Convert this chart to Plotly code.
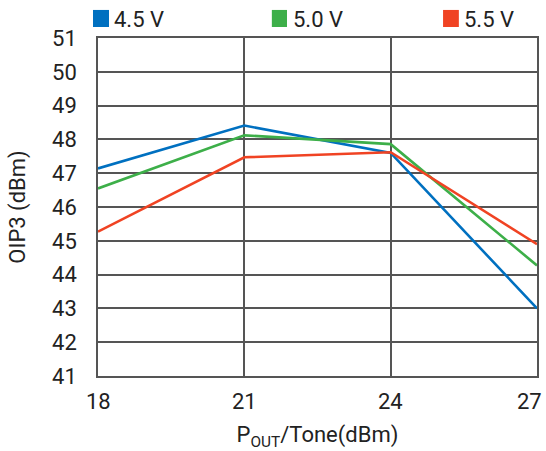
import plotly.graph_objects as go

# Output power per tone (dBm)
pout = [18, 21, 24, 27]

# OIP3 (dBm) per supply voltage
oip3_45 = [47.14, 48.41, 47.60, 43.00]
oip3_50 = [46.55, 48.12, 47.86, 44.27]
oip3_55 = [45.27, 47.47, 47.62, 44.90]

series_names = ["4.5 V", "5.0 V", "5.5 V"]
series_colors = ["#0070C0", "#3DAF49", "#F04323"]

x_ticks = [18, 21, 24, 27]
y_ticks = list(range(41, 52))

FONT = "Roboto, sans-serif"
GRID = "#555555"
SIZE = 22

fig = go.Figure()
for name, vals, col in zip(series_names, [oip3_45, oip3_50, oip3_55], series_colors):
    fig.add_trace(go.Scatter(x=pout, y=vals, mode="lines", name=name,
                             line=dict(color=col, width=2.6), showlegend=False))

# Legend drawn as colored squares with labels across the top
legend_sq = [(-0.0114, 0.025), (0.396, 0.4305), (0.786, 0.822)]
for name, col, (a, b) in zip(series_names, series_colors, legend_sq):
    fig.add_shape(type="rect", xref="paper", yref="paper",
                  x0=a, x1=b, y0=1.0325, y1=1.083,
                  fillcolor=col, line=dict(width=0))
    fig.add_annotation(x=b + 0.008, y=1.056, xref="paper", yref="paper",
                       text=name, showarrow=False, xanchor="left", yanchor="middle",
                       font=dict(family=FONT, size=SIZE, color="#222222"))

# X tick labels placed under each tick; the last one is kept inside the page edge
for i, t in enumerate(x_ticks):
    last = i == len(x_ticks) - 1
    fig.add_annotation(x=t, y=0, xref="x", yref="paper", text=str(t),
                       showarrow=False, yanchor="top", yshift=-11,
                       xanchor="right" if last else "center", xshift=7 if last else 0,
                       font=dict(family=FONT, size=SIZE, color="#222222"))

fig.update_layout(
    width=546, height=451,
    margin=dict(l=98, r=9, t=38, b=75, autoexpand=False),
    plot_bgcolor="white", paper_bgcolor="white",
    font=dict(family=FONT, size=SIZE, color="#222222"),
)
fig.update_xaxes(
    range=[18, 27], tickvals=x_ticks, showticklabels=False,
    showgrid=True, gridcolor=GRID, gridwidth=1.5,
    showline=True, linecolor=GRID, linewidth=1.5, mirror=True, zeroline=False,
    ticks="",
    title=dict(text="P<sub>OUT</sub>/Tone(dBm)", standoff=50, font=dict(size=SIZE)),
)
fig.update_yaxes(
    range=[41, 51], tickvals=y_ticks, showgrid=True, gridcolor=GRID, gridwidth=1.5,
    showline=True, linecolor=GRID, linewidth=1.5, mirror=True, zeroline=False,
    ticks="", ticklabelstandoff=15,
    title=dict(text="OIP3 (dBm)", standoff=20, font=dict(size=SIZE)),
)

fig.write_html("out.html")
